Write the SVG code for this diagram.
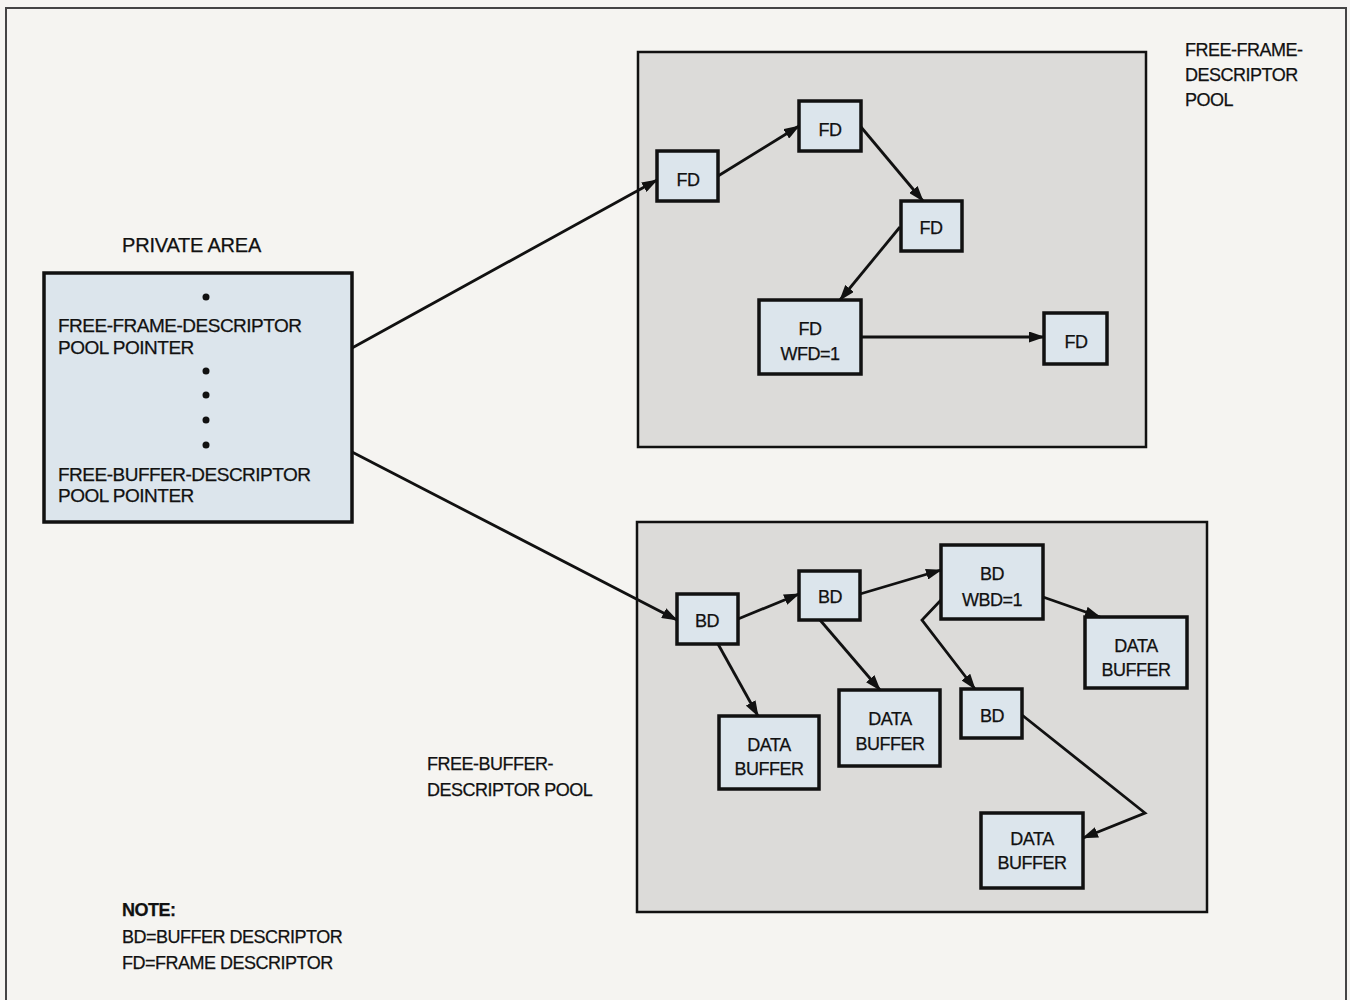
<svg xmlns="http://www.w3.org/2000/svg" width="1350" height="1000" viewBox="0 0 1350 1000">
<defs>
<style>
text{font-family:"Liberation Sans",Arial,sans-serif;fill:#111;stroke:#111;stroke-width:0.25;}
.lbl{font-size:18px;letter-spacing:-0.5px;text-anchor:middle;}
.big{font-size:19px;letter-spacing:-0.5px;}
.cap{font-size:18px;letter-spacing:-0.5px;}
.node{fill:#dce5ec;stroke:#111;stroke-width:3.5;}
.pool{fill:#dcdbd9;stroke:#111;stroke-width:2.5;}
.conn{fill:none;stroke:#111;stroke-width:2.8;marker-end:url(#ah);}
</style>
<marker id="ah" viewBox="0 0 16 11" refX="15" refY="5.5" markerWidth="16" markerHeight="11" markerUnits="userSpaceOnUse" orient="auto">
<path d="M0,0 L16,5.5 L0,11 Z" fill="#111"/>
</marker>
</defs>
<rect x="0" y="0" width="1350" height="1000" fill="#f5f4f1"/>
<rect x="6" y="8" width="1340" height="1000" fill="none" stroke="#444" stroke-width="2"/>

<g id="pool-frame">
<rect class="pool" x="638" y="52" width="508" height="395"/>
<text class="cap" x="1185" y="56">FREE-FRAME-</text>
<text class="cap" x="1185" y="81">DESCRIPTOR</text>
<text class="cap" x="1185" y="106">POOL</text>
</g>
<g id="pool-buffer">
<rect class="pool" x="637" y="522" width="570" height="390"/>
<text class="cap" x="427" y="770">FREE-BUFFER-</text>
<text class="cap" x="427" y="796">DESCRIPTOR POOL</text>
</g>

<g id="private-area">
<text x="122" y="252" style="font-size:20px;letter-spacing:-0.2px">PRIVATE AREA</text>
<rect class="node" x="44" y="273" width="308" height="249"/>
<circle cx="206" cy="297" r="3.5" fill="#111"/>
<text class="big" x="58" y="332">FREE-FRAME-DESCRIPTOR</text>
<text class="big" x="58" y="354">POOL POINTER</text>
<circle cx="206" cy="371" r="3.5" fill="#111"/>
<circle cx="206" cy="395" r="3.5" fill="#111"/>
<circle cx="206" cy="420" r="3.5" fill="#111"/>
<circle cx="206" cy="445" r="3.5" fill="#111"/>
<text class="big" x="58" y="481">FREE-BUFFER-DESCRIPTOR</text>
<text class="big" x="58" y="502">POOL POINTER</text>
</g>

<g id="fd1"><rect class="node" x="657" y="151" width="61" height="50"/><text class="lbl" x="688" y="186">FD</text></g>
<g id="fd2"><rect class="node" x="799" y="101" width="62" height="50"/><text class="lbl" x="830" y="136">FD</text></g>
<g id="fd3"><rect class="node" x="901" y="201" width="61" height="50"/><text class="lbl" x="931" y="234">FD</text></g>
<g id="fd4"><rect class="node" x="759" y="300" width="102" height="74"/><text class="lbl" x="810" y="335">FD</text><text class="lbl" x="810" y="360">WFD=1</text></g>
<g id="fd5"><rect class="node" x="1044" y="313" width="63" height="51"/><text class="lbl" x="1076" y="348">FD</text></g>

<g id="bd1"><rect class="node" x="677" y="594" width="61" height="50"/><text class="lbl" x="707" y="627">BD</text></g>
<g id="bd2"><rect class="node" x="799" y="571" width="61" height="49"/><text class="lbl" x="830" y="603">BD</text></g>
<g id="bd3"><rect class="node" x="941" y="545" width="102" height="74"/><text class="lbl" x="992" y="580">BD</text><text class="lbl" x="992" y="606">WBD=1</text></g>
<g id="db1"><rect class="node" x="1085" y="617" width="102" height="71"/><text class="lbl" x="1136" y="652">DATA</text><text class="lbl" x="1136" y="676">BUFFER</text></g>
<g id="bd4"><rect class="node" x="961" y="689" width="61" height="49"/><text class="lbl" x="992" y="722">BD</text></g>
<g id="db2"><rect class="node" x="719" y="716" width="100" height="73"/><text class="lbl" x="769" y="751">DATA</text><text class="lbl" x="769" y="775">BUFFER</text></g>
<g id="db3"><rect class="node" x="839" y="690" width="101" height="76"/><text class="lbl" x="890" y="725">DATA</text><text class="lbl" x="890" y="750">BUFFER</text></g>
<g id="db4"><rect class="node" x="981" y="813" width="102" height="75"/><text class="lbl" x="1032" y="845">DATA</text><text class="lbl" x="1032" y="869">BUFFER</text></g>

<g id="note">
<text x="122" y="916" style="font-size:18px;font-weight:bold;letter-spacing:-0.5px">NOTE:</text>
<text class="cap" x="122" y="943">BD=BUFFER DESCRIPTOR</text>
<text class="cap" x="122" y="969">FD=FRAME DESCRIPTOR</text>
</g>

<g id="connectors">
<path class="conn" d="M352,348 L657,180"/>
<path class="conn" d="M352,452 L677,620"/>
<path class="conn" d="M718,176 L799,126"/>
<path class="conn" d="M861,127 L923,201"/>
<path class="conn" d="M900,227 L840,300"/>
<path class="conn" d="M861,337 L1044,337"/>
<path class="conn" d="M738,619 L799,594"/>
<path class="conn" d="M860,594 L941,570"/>
<path class="conn" d="M718,644 L758,716"/>
<path class="conn" d="M820,620 L880,690"/>
<path class="conn" d="M1043,597 L1100,617"/>
<path class="conn" d="M941,600 L922,620 L975,689"/>
<path class="conn" d="M1022,715 L1145,813 L1083,838"/>
</g>
</svg>
